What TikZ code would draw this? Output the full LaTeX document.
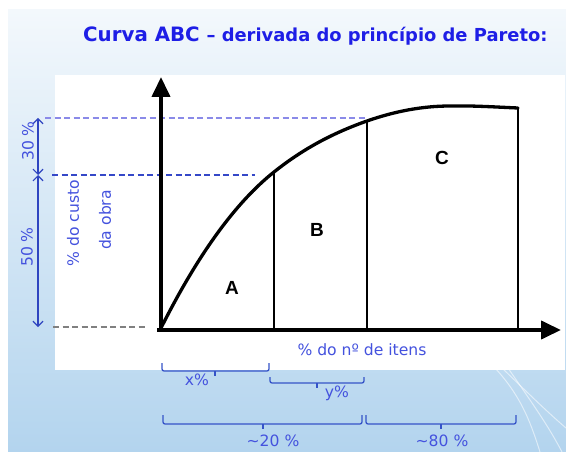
\documentclass[tikz,border=0pt]{standalone}
\usepackage{fontspec}
\setmainfont{DejaVu Sans}
\newfontfamily\arialf{Liberation Sans}
\usetikzlibrary{arrows.meta}
\definecolor{bgtop}{HTML}{F3F8FC}
\definecolor{bgbot}{HTML}{B3D4EE}
\definecolor{titleblue}{HTML}{1E1EE6}
\definecolor{lblblue}{HTML}{4452DE}
\definecolor{brblue}{HTML}{3553C8}
\definecolor{arrblue}{HTML}{2F45C0}
\definecolor{dashlight}{HTML}{8A8AE8}
\definecolor{dashdark}{HTML}{3548C8}
\tikzset{
  axis/.style={line width=4pt,-{Triangle[length=20pt,width=18pt]}},
  curveline/.style={line width=3.3pt,line cap=round},
  divline/.style={line width=1.5pt},
  lbl/.style={inner sep=0pt,text=lblblue,font=\fontsize{15.6}{17}\selectfont},
  zone/.style={inner sep=0pt,font=\arialf\bfseries\fontsize{19}{21}\selectfont},
  br/.style={draw=brblue,line width=1.3pt,rounded corners=2pt},
  dimarrow/.style={draw=arrblue,line width=1.2pt,{Straight Barb[length=5pt,width=10pt]}-{Straight Barb[length=5pt,width=10pt]}},
  dashA/.style={draw=dashlight,line width=1.2pt,dash pattern=on 6pt off 3.5pt},
  dashB/.style={draw=dashdark,line width=1.2pt,dash pattern=on 6pt off 3.5pt},
  dashC/.style={draw=gray,line width=1.2pt,dash pattern=on 6pt off 3.5pt},
  swirl/.style={draw=white,line width=1pt,opacity=0.55}
}
\newcommand\abcbrace[5]{%
  \draw[br] (#1,#3) -- (#1,#4) -- (#2,#4) -- (#2,#3);
  \draw[br] (#5,#4) -- (#5,#4+5);
}
\begin{document}
\begin{tikzpicture}[x=1pt,y=-1pt]
\useasboundingbox (0,0) rectangle (566,452);
\fill[white] (0,0) rectangle (566,452);
\shade[top color=bgtop,bottom color=bgbot] (8,10) rectangle (566,452);
% decorative swirls
\draw[swirl] (495,368) .. controls (520,395) and (530,420) .. (540,452);
\draw[swirl] (502,368) .. controls (525,390) and (545,410) .. (566,428);
\draw[swirl] (508,368) .. controls (530,400) and (548,425) .. (562,452);
% plot area
\fill[white] (55,75) rectangle (565,370);
% title
\node[anchor=base west,inner sep=0pt,text=titleblue] (title) at (83,42)
  {\bfseries\fontsize{19.8}{22}\selectfont Curva ABC \fontsize{17.9}{20}\selectfont\textendash{} derivada do princípio de Pareto:};
% coordinates
\coordinate (O) at (161,330);
\coordinate (xend) at (561,330);
\coordinate (yend) at (161,77);
\coordinate (P1) at (274,172);
\coordinate (P2) at (367,121);
\coordinate (P3) at (450,106);
\coordinate (P4) at (518,108);
\coordinate (Q1) at (274,330);
\coordinate (Q2) at (367,330);
\coordinate (Q4) at (518,330);
% dashed guides
\draw[dashA] (45,118) -- (365,118);
\draw[dashB] (52,175) -- (255,175);
\draw[dashC] (53,327) -- (148,327);
% dividers
\draw[divline] (P1) -- (Q1);
\draw[divline] (P2) -- (Q2);
\draw[divline] (P4) -- (Q4);
% curve
\draw[curveline] (161,328) .. controls (198.7,253) and (236.3,202) .. (P1)
  .. controls (305,147.2) and (336,131.9) .. (P2)
  .. controls (394.7,111.3) and (422.3,106) .. (P3)
  .. controls (472,105.5) and (495,107) .. (P4);
% axes
\draw[axis] (157,330) -- (xend);
\draw[axis] (161,332) -- (yend);
% zone labels
\node[zone] (A) at (232,288) {A};
\node[zone] (B) at (317,230) {B};
\node[zone] (C) at (442,158) {C};
% left dimension arrows
\coordinate (d1) at (38,118);
\coordinate (d2) at (38,175);
\coordinate (d3) at (38,327);
\draw[dimarrow] (d1) -- (d2);
\draw[dimarrow] (d2) -- (d3);
\node[lbl,rotate=90] (p30) at (28,141) {30 \%};
\node[lbl,rotate=90] (p50) at (27,247) {50 \%};
\node[lbl,rotate=90] (custo) at (73,223) {\% do custo};
\node[lbl,rotate=90] (obra) at (105,220) {da obra};
% x axis label
\node[lbl] (xlabel) at (362,350) {\% do nº de itens};
% braces
\abcbrace{162}{269}{363}{371}{215}
\abcbrace{270}{364}{377}{383}{317}
\abcbrace{163}{362}{415}{424}{263}
\abcbrace{366}{516}{415}{424}{441}
\node[lbl] (xp) at (197,380) {x\%};
\node[lbl] (yp) at (337,393) {y\%};
\node[lbl] (p20) at (273,441) {\textasciitilde 20 \%};
\node[lbl] (p80) at (442,441) {\textasciitilde 80 \%};
\end{tikzpicture}
\end{document}
